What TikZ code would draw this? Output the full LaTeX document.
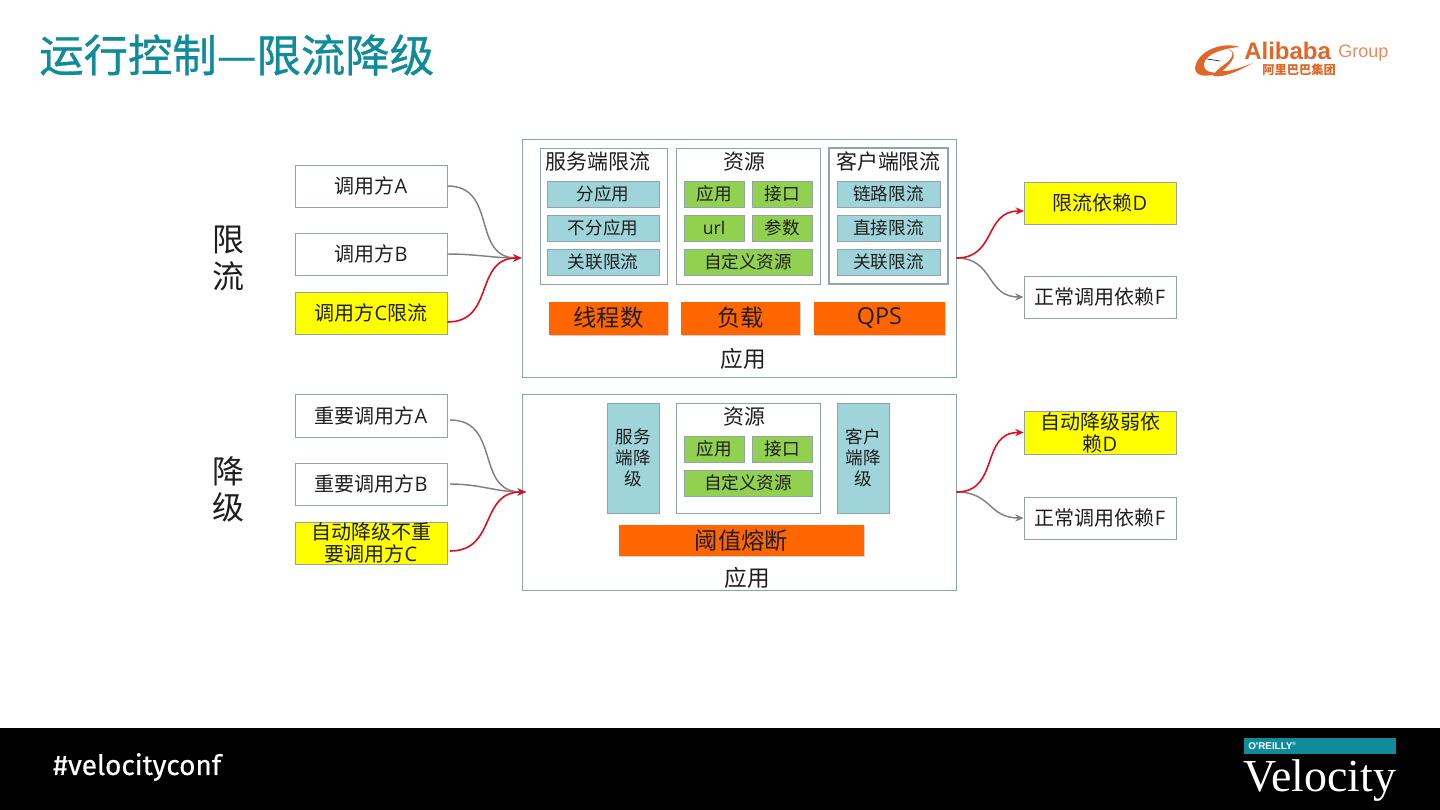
\documentclass[tikz,border=0pt]{standalone}
\usepackage{fontspec}
\setmainfont{Noto Sans CJK SC}
\newfontfamily\titlefont[FakeBold=0.7]{Noto Sans CJK SC}
\newfontfamily\lat{Open Sans}
\newfontfamily\latinbold{Liberation Sans}
\newfontfamily\barfont[FakeBold=0.5]{Fira Sans}
\newfontfamily\logoserif{Liberation Serif}
\usetikzlibrary{arrows.meta,shadows}
\definecolor{titlec}{RGB}{15,139,153}
\definecolor{edgec}{RGB}{145,165,168}
\definecolor{tealc}{RGB}{159,212,219}
\definecolor{greenc}{RGB}{146,208,80}
\definecolor{orangec}{RGB}{255,102,0}
\definecolor{yellowc}{RGB}{255,255,0}
\definecolor{logoc}{RGB}{224,102,42}
\definecolor{redc}{RGB}{225,15,30}
\definecolor{grayc}{RGB}{128,128,128}
\definecolor{inkc}{RGB}{30,30,30}

\begin{document}
\begin{tikzpicture}[
  x=.75pt, y=-.75pt,
  >={Stealth[length=2.2mm, width=1.9mm]},
  sized/.style 2 args={minimum width=#1*.75pt, minimum height=#2*.75pt,
                       inner sep=0pt, align=center, text=inkc},
  txt/.style={font=\fontsize{#1}{40}\selectfont, inner sep=0pt, text=inkc, align=center},
  caller/.style={draw=edgec, fill=white, line width=.65pt,
                 font=\fontsize{15}{16.5}\selectfont},
  limited/.style={caller, fill=yellowc},
  group/.style={draw=edgec, fill=white, line width=.7pt},
  app/.style={draw=edgec, fill=white, line width=.6pt},
  rule/.style={draw=edgec, fill=tealc, line width=.6pt, font=\fontsize{13.2}{15.7}\selectfont},
  res/.style={draw=edgec, fill=greenc, line width=.6pt, font=\fontsize{13.2}{15}\selectfont},
  metric/.style={fill=orangec, font=\fontsize{17.5}{19}\selectfont,
                 general shadow={shadow xshift=1.1pt, shadow yshift=-1.1pt, fill=black!18}},
  norm/.style={->, line width=1.1pt, grayc},
  hot/.style={->, line width=1.2pt, redc},
]
\useasboundingbox (0,0) rectangle (1440,810);
\fill[black] (0,728) rectangle (1440,810);

% title and logo
\node[anchor=west, inner sep=0pt, text=titlec, font=\titlefont\fontsize{33.3}{40}\selectfont] (title) at (39,55) {运行控制—限流降级};
\fill[logoc] (1240,47) .. controls (1220,41) and (1197,52) .. (1195,68)
  .. controls (1195,78) and (1210,77) .. (1222,72)
  .. controls (1210,74) and (1203,71) .. (1204,63)
  .. controls (1207,53) and (1225,48) .. cycle;
\fill[logoc] (1221,47) .. controls (1236,49) and (1235,57) .. (1225,64)
  .. controls (1218,69) and (1215,72) .. (1213,76)
  .. controls (1225,78) and (1240,70) .. (1253,63)
  .. controls (1240,68) and (1228,72) .. (1222,71)
  .. controls (1232,63) and (1243,50) .. cycle;
\draw[inkc, line width=.5pt] (1207,59) -- (1220,61);
\node[anchor=base west, inner sep=0pt, text=logoc, font=\latinbold\bfseries\fontsize{18}{18}\selectfont] (alibaba) at (1244,60) {Alibaba};
\node[anchor=west, inner sep=0pt, text=logoc!75, font=\latinbold\fontsize{13.5}{14}\selectfont] (groupname) at (1338,53) {Group};
\node[anchor=west, inner sep=0pt, text=logoc, font=\bfseries\fontsize{9.2}{10}\selectfont] (alicn) at (1262,69.5) {阿里巴巴集团};

% upper panel
\node[txt=24] (xian) at (228,240) {限};
\node[txt=24] (liu) at (228,276) {流};

\node[caller, sized={152}{42}] (ca) at (371,186) {调用方{\lat A}};
\node[caller, sized={152}{42}] (cb) at (371,254) {调用方{\lat B}};
\node[limited, sized={152}{42}] (cc) at (371,313) {调用方{\lat C}限流};

\node[app, sized={434}{238}] (app1) at (739,258) {};
\node[txt=17] (app1lab) at (743,359) {应用};
\coordinate (app1in) at (app1.west);
\coordinate (app1out) at (app1.east);

\node[group, sized={127}{136}] (srv) at (603.5,216) {};
\node[group, sized={144}{136}] (resa) at (748,216) {};
\node[group, line width=1pt, sized={119}{136}] (cli) at (888.5,216) {};
\node[txt=15.7] (srvlab) at (598,162) {服务端限流};
\node[txt=15.7] (resalab) at (744,162) {资源};
\node[txt=15.7] (clilab) at (888.5,162) {客户端限流};

\node[rule, sized={112}{26}] (s1) at (603,194) {分应用};
\node[rule, sized={112}{26}] (s2) at (603,228) {不分应用};
\node[rule, sized={112}{26}] (s3) at (603,262) {关联限流};
\node[res, sized={60}{26}] (r1) at (714,194) {应用};
\node[res, sized={60}{26}] (r2) at (782,194) {接口};
\node[res, sized={60}{26}] (r3) at (714,228) {\lat url};
\node[res, sized={60}{26}] (r4) at (782,228) {参数};
\node[res, sized={128}{26}] (r5) at (748,262) {自定义资源};
\node[rule, sized={103}{26}] (k1) at (888.5,194) {链路限流};
\node[rule, sized={103}{26}] (k2) at (888.5,228) {直接限流};
\node[rule, sized={103}{26}] (k3) at (888.5,262) {关联限流};

\node[metric, sized={119}{33}] (m1) at (608.5,318) {线程数};
\node[metric, sized={119}{33}] (m2) at (740.5,318) {负载};
\node[metric, sized={131}{33}] (m3) at (879.5,318) {\lat QPS};

\node[limited, sized={152}{42}] (dd) at (1100,203) {限流依赖{\lat D}};
\node[caller, sized={152}{42}] (df) at (1100,297) {正常调用依赖{\lat F}};
\coordinate (ddin) at (1024,211);

\draw[norm] (ca.east) to[out=0, in=180, looseness=1.25] (app1in);
\draw[norm] (cb.east) to[out=0, in=180] (app1in);
\draw[hot] (cc.east |- 0,322) to[out=0, in=180, looseness=1.25] (app1in);
\draw[norm] (app1out) to[out=0, in=180, looseness=1.25] (df.west);
\draw[hot] (app1out) to[out=0, in=180, looseness=1.25] (ddin);

% lower panel
\node[txt=24] (jiang) at (228,471) {降};
\node[txt=24] (ji) at (228,507) {级};

\node[caller, sized={152}{43}] (ia) at (371,415.5) {重要调用方{\lat A}};
\node[caller, sized={152}{42}] (ib) at (371,484) {重要调用方{\lat B}};
\node[limited, sized={152}{42}] (ic) at (371,543) {自动降级不重\\要调用方{\lat C}};
\coordinate (iaout) at (450,420);
\coordinate (ibout) at (450,484);
\coordinate (icout) at (450,551);

\node[app, sized={434}{196}] (app2) at (739,492) {};
\node[txt=17] (app2lab) at (747,578) {应用};
\coordinate (app2in) at (526,492);
\coordinate (app2out) at (app2.east);

\node[rule, sized={52}{110}] (srv2) at (633,458) {服务\\端降\\级};
\node[group, sized={144}{110}] (resb) at (748,458) {};
\node[rule, sized={52}{110}] (cli2) at (863,458) {客户\\端降\\级};
\node[txt=15.7] (resblab) at (744,417) {资源};
\node[res, sized={60}{26}] (q1) at (714,449) {应用};
\node[res, sized={60}{26}] (q2) at (782,449) {接口};
\node[res, sized={128}{26}] (q3) at (748,483) {自定义资源};
\node[metric, sized={245}{31}] (fuse) at (741.5,540.5) {阈值熔断};

\node[limited, sized={152}{43}] (wd) at (1100,432.5) {自动降级弱依\\赖{\lat D}};
\node[caller, sized={152}{42}] (wf) at (1100,518) {正常调用依赖{\lat F}};

\draw[norm] (iaout) to[out=0, in=180, looseness=1.25] (app2in);
\draw[norm] (ibout) to[out=0, in=180] (app2in);
\draw[hot] (icout) to[out=0, in=180, looseness=1.25] (app2in);
\draw[norm] (app2out) to[out=0, in=180, looseness=1.25] (wf.west);
\draw[hot] (app2out) to[out=0, in=180, looseness=1.25] (wd.west);

% bottom bar
\node[anchor=west, inner sep=0pt, text=white, font=\barfont\fontsize{21}{22}\selectfont] (tag) at (53,767) {\#velocityconf};
\node[fill=titlec, sized={152}{16}, anchor=north west] (oreillybar) at (1244,738) {};
\node[anchor=west, inner sep=0pt, text=white, font=\latinbold\bfseries\fontsize{7.4}{8}\selectfont] (oreilly) at (1248,745.5) {O'REILLY\textsuperscript{\fontsize{3.5}{4}\selectfont ®}};
\node[anchor=west, inner sep=0pt, text=white, font=\logoserif\fontsize{34.4}{35}\selectfont] (velocity) at (1243,781) {Velocity};
\end{tikzpicture}
\end{document}
